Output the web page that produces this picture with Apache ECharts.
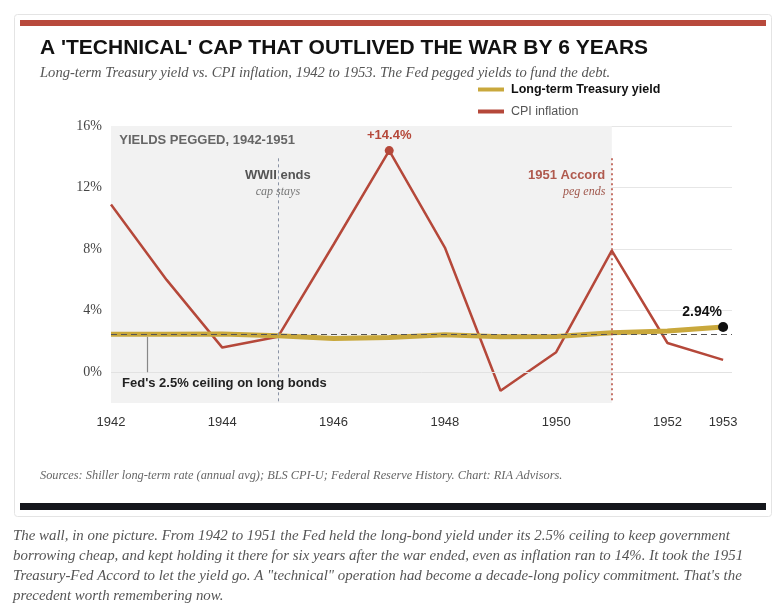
<!DOCTYPE html>
<html><head><meta charset="utf-8">
<script src="https://cdn.jsdelivr.net/npm/echarts@6/dist/echarts.min.js"></script>
<style>html,body{margin:0;padding:0;background:#fff;}#c{width:779px;height:613px;}</style>
</head><body><div id="c"></div>
<script>
// ---- data ----
const years = [1942,1943,1944,1945,1946,1947,1948,1949,1950,1951,1952,1953];
const treasuryYield = [2.46,2.47,2.48,2.37,2.19,2.25,2.44,2.31,2.32,2.57,2.68,2.94];
const cpiInflation = [10.9,6.0,1.6,2.3,8.3,14.4,8.1,-1.2,1.3,7.9,1.9,0.8];
const xTickLabels = [1942,1944,1946,1948,1950,1952,1953];
const yTickLabels = [0,4,8,12,16];
const pegStart = 1942, pegEnd = 1951, warEnd = 1945, ceiling = 2.5;

// ---- styles ----
const GOLD = '#c9a83c', RED = '#b5483a';
const SANS = 'Liberation Sans, Arial, sans-serif';
const SERIF = 'Liberation Serif, Georgia, serif';

const yieldData = years.map((y, i) => [y, treasuryYield[i]]);
const cpiData = years.map((y, i) => [y, cpiInflation[i]]);
const peakIdx = cpiInflation.indexOf(Math.max(...cpiInflation));
const lastIdx = years.length - 1;

function textPoint(coord, text, pos, style, dist) {
  return {
    coord: coord, symbol: 'circle', symbolSize: 1,
    itemStyle: { color: 'rgba(0,0,0,0)' },
    label: Object.assign({ show: true, formatter: text, position: pos, distance: dist || 0 }, style)
  };
}

const chart = echarts.init(document.getElementById('c'), null, { renderer: 'canvas' });
chart.setOption({
  animation: false,
  backgroundColor: '#fff',
  graphic: [
    { type: 'rect', shape: { x: 14.5, y: 14.5, width: 757, height: 502, r: 3 }, style: { fill: 'none', stroke: '#e4e4e4', lineWidth: 1 }, z: 0 },
    { type: 'rect', shape: { x: 20, y: 20, width: 746, height: 6 }, style: { fill: '#b84a3c' } },
    { type: 'rect', shape: { x: 20, y: 503, width: 746, height: 7 }, style: { fill: '#15171c' } }
  ],
  title: [
    { text: "A 'TECHNICAL' CAP THAT OUTLIVED THE WAR BY 6 YEARS", left: 40, top: 36, padding: 0,
      textStyle: { fontFamily: SANS, fontSize: 21, fontWeight: 'bold', color: '#111', lineHeight: 24 } },
    { text: 'Long-term Treasury yield vs. CPI inflation, 1942 to 1953. The Fed pegged yields to fund the debt.', left: 40, top: 65, padding: 0,
      textStyle: { fontFamily: SERIF, fontSize: 14.6, fontStyle: 'italic', fontWeight: 'normal', color: '#555', lineHeight: 16 } },
    { text: 'Sources: Shiller long-term rate (annual avg); BLS CPI-U; Federal Reserve History. Chart: RIA Advisors.', left: 40, top: 469, padding: 0,
      textStyle: { fontFamily: SERIF, fontSize: 12.35, fontStyle: 'italic', fontWeight: 'normal', color: '#666', lineHeight: 14 } },
    { text: 'The wall, in one picture. From 1942 to 1951 the Fed held the long-bond yield under its 2.5% ceiling to keep government\nborrowing cheap, and kept holding it there for six years after the war ended, even as inflation ran to 14%. It took the 1951\nTreasury-Fed Accord to let the yield go. A "technical" operation had become a decade-long policy commitment. That\'s the\nprecedent worth remembering now.',
      left: 13, top: 526, padding: 0,
      textStyle: { fontFamily: SERIF, fontSize: 14.9, fontStyle: 'italic', fontWeight: 'normal', color: '#555', lineHeight: 20 } }
  ],
  legend: {
    orient: 'vertical', left: 478, top: 83, itemWidth: 26, itemHeight: 4, itemGap: 9, padding: 0,
    icon: 'rect',
    data: ['Long-term Treasury yield', 'CPI inflation'],
    formatter: n => n === 'Long-term Treasury yield' ? '{b|' + n + '}' : '{n|' + n + '}',
    textStyle: { padding: [0, 0, 0, 2], rich: {
      b: { fontFamily: SANS, fontSize: 12.5, fontWeight: 'bold', color: '#111', lineHeight: 15 },
      n: { fontFamily: SANS, fontSize: 12.5, color: '#555', lineHeight: 15 } } }
  },
  grid: { left: 111, top: 126, width: 621, height: 277, containLabel: false },
  xAxis: {
    type: 'value', min: 1942, max: 1953.16,
    axisLine: { show: false }, axisTick: { show: false }, splitLine: { show: false },
    axisLabel: { customValues: xTickLabels, formatter: v => String(v), color: '#333', fontFamily: SANS, fontSize: 13, margin: 13 }
  },
  yAxis: {
    type: 'value', min: -2, max: 16, interval: 2,
    axisLine: { show: false }, axisTick: { show: false },
    axisLabel: { formatter: v => yTickLabels.includes(v) ? v + '%' : '', color: '#444', fontFamily: SERIF, fontSize: 14, margin: 9 },
    splitLine: { lineStyle: { color: ['rgba(0,0,0,0)', '#e6e6e6'], width: 1 } }
  },
  series: [
    { // shaded peg period
      name: 'peg', type: 'line', data: [], z: 1, silent: true,
      markArea: { silent: true, itemStyle: { color: '#f2f2f2' }, data: [[{ xAxis: pegStart }, { xAxis: pegEnd }]] }
    },
    { // reference lines and annotations
      name: 'notes', type: 'line', data: [], z: 2, silent: true,
      markLine: {
        silent: true, symbol: 'none', label: { show: false }, animation: false,
        data: [
          { yAxis: 0, lineStyle: { color: '#e2e2e2', type: 'solid', width: 1 } },
          { yAxis: ceiling, lineStyle: { color: '#555', type: [6, 4], width: 1.2 } },
          [{ coord: [warEnd, 13.9], lineStyle: { color: '#8a93a5', type: [3, 3], width: 1 } }, { coord: [warEnd, -2] }],
          [{ coord: [pegEnd, 13.9], lineStyle: { color: RED, type: [2, 3], width: 1.5 } }, { coord: [pegEnd, -2] }],
          [{ coord: [1942.66, 2.3], lineStyle: { color: '#888', type: 'solid', width: 1.2 } }, { coord: [1942.66, 0] }]
        ]
      },
      markPoint: {
        silent: true, animation: false,
        data: [
          textPoint([1942.14, 15.09], 'YIELDS PEGGED, 1942-1951', 'right', { fontFamily: SANS, fontSize: 13, fontWeight: 'bold', color: '#666' }),
          textPoint([warEnd, 12.77], 'WWII ends', 'inside', { fontFamily: SANS, fontSize: 13, fontWeight: 'bold', color: '#555' }),
          textPoint([warEnd, 11.71], 'cap stays', 'inside', { fontFamily: SERIF, fontSize: 12, fontStyle: 'italic', color: '#777' }),
          textPoint([pegEnd, 12.77], '1951 Accord', 'left', { fontFamily: SANS, fontSize: 13, fontWeight: 'bold', color: '#b05a4e' }, 6),
          textPoint([pegEnd, 11.71], 'peg ends', 'left', { fontFamily: SERIF, fontSize: 12, fontStyle: 'italic', color: '#a0574c' }, 6),
          textPoint([1942.19, -0.7], "Fed's 2.5% ceiling on long bonds", 'right', { fontFamily: SANS, fontSize: 13, fontWeight: 'bold', color: '#222' })
        ]
      }
    },
    {
      name: 'CPI inflation', type: 'line', data: cpiData, z: 3, color: RED,
      symbol: 'none', lineStyle: { color: RED, width: 2.5 },
      markPoint: {
        silent: true, animation: false,
        data: [{ coord: cpiData[peakIdx], symbol: 'circle', symbolSize: 9, itemStyle: { color: RED },
          label: { show: true, position: 'top', distance: 4, formatter: '+' + cpiInflation[peakIdx].toFixed(1) + '%',
            fontFamily: SANS, fontSize: 13, fontWeight: 'bold', color: RED } }]
      }
    },
    {
      name: 'Long-term Treasury yield', type: 'line', data: yieldData, z: 4, color: GOLD,
      symbol: 'none', lineStyle: { color: GOLD, width: 5 },
      markPoint: {
        silent: true, animation: false,
        data: [{ coord: yieldData[lastIdx], symbol: 'circle', symbolSize: 10, itemStyle: { color: '#111' },
          label: { show: true, position: 'top', distance: 3, offset: [-21, 0], formatter: treasuryYield[lastIdx].toFixed(2) + '%',
            fontFamily: SANS, fontSize: 14, fontWeight: 'bold', color: '#111' } }]
      }
    }
  ]
});
</script></body></html>
